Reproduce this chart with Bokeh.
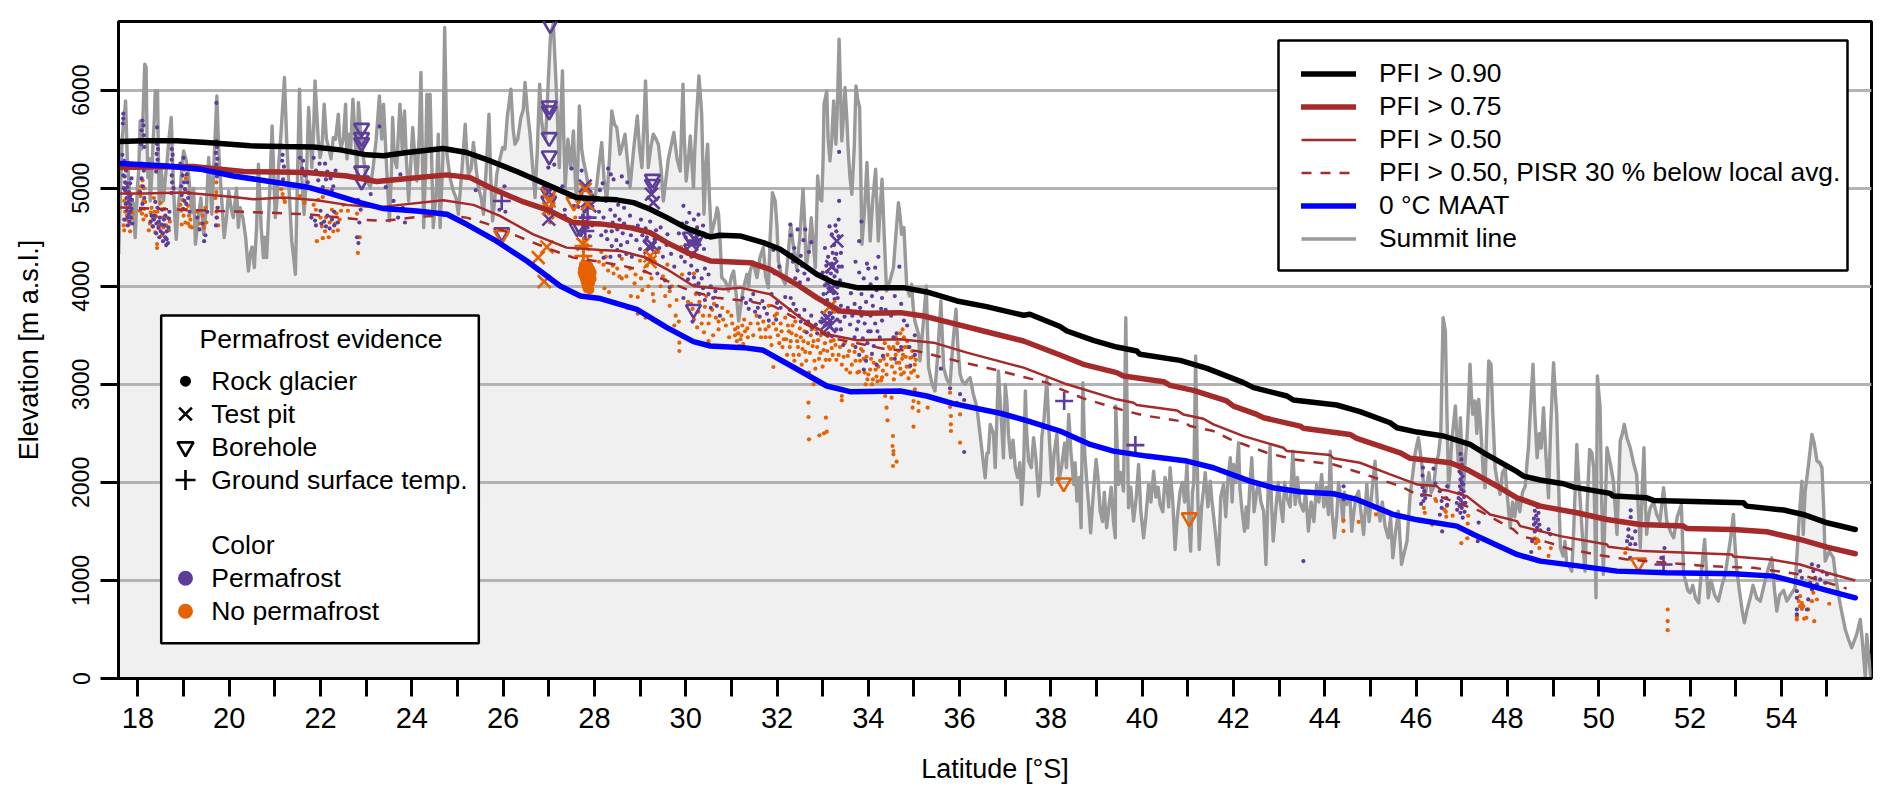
from bokeh.plotting import figure
from bokeh.models import Range1d, FixedTicker, Legend, LegendItem, Label, BoxAnnotation
from bokeh.embed import file_html
from bokeh.resources import INLINE

FONT = "Liberation Sans"
PURPLE = "#5e3c99"
ORANGE = "#e66101"

tick_lat_major = list(range(18, 56, 2))
tick_lat_minor = list(range(19, 56, 2))
tick_elev = [0, 1000, 2000, 3000, 4000, 5000, 6000]

pfi90 = [(17.61,5476),(18.12,5483),(18.85,5483),(19.51,5466),(20.46,5432),(21.19,5425),(21.85,5421),(22.43,5391),(23.01,5340),(23.38,5330),(23.89,5364),(24.69,5404),(25.2,5364),(25.72,5278),(26.3,5170),(27.03,5023),(27.61,4904),(28.13,4890),(28.49,4881),(28.86,4853),(29.22,4785),(29.59,4700),(30.03,4591),(30.54,4503),(30.75,4520),(31.19,4513),(31.7,4445),(32.07,4377),(32.51,4241),(32.87,4122),(33.24,4037),(33.75,3986),(34.33,3986),(34.77,3986),(35.28,3942),(35.94,3850),(36.59,3792),(37.40,3704),(37.54,3714),(38.2,3590),(38.35,3544),(38.93,3449),(39.44,3380),(39.88,3340),(39.95,3306),(40.83,3244),(41.42,3163),(42.22,3017),(42.44,2966),(43.17,2881),(43.31,2840),(44.26,2789),(44.77,2721),(45.43,2608),(45.58,2557),(46.02,2513),(46.6,2473),(47.18,2387),(47.48,2302),(48.21,2109),(48.35,2064),(48.72,2024),(49.23,1986),(49.45,1952),(50.25,1888),(50.32,1860),(51.05,1843),(51.2,1816),(53.17,1792),(53.24,1758),(54.05,1718),(54.48,1673),(55.0,1588),(55.62,1520)]
pfi75 = [(17.61,5210),(18.12,5217),(19.2,5221),(19.8,5194),(20.31,5170),(21.12,5166),(21.7,5160),(22.58,5125),(23.23,5068),(23.74,5091),(24.77,5136),(25.28,5108),(25.79,4989),(26.45,4860),(27.03,4768),(27.54,4649),(28.13,4636),(28.78,4598),(29.22,4547),(29.59,4445),(30.03,4343),(30.54,4258),(31.41,4241),(31.85,4173),(32.43,4020),(32.87,3884),(33.38,3748),(33.97,3724),(34.7,3731),(35.21,3697),(35.79,3629),(36.52,3544),(37.4,3442),(38.2,3299),(38.71,3204),(39.44,3119),(39.59,3085),(40.47,3027),(40.61,2989),(41.12,2938),(41.85,2830),(42.0,2778),(42.51,2693),(42.66,2659),(43.46,2574),(43.53,2551),(44.55,2489),(44.7,2449),(45.65,2302),(45.87,2245),(46.75,2200),(47.11,2132),(47.84,1945),(48.21,1843),(48.72,1758),(49.52,1690),(50.18,1622),(50.91,1571),(51.86,1554),(51.93,1530),(52.95,1520),(53.68,1496),(54.41,1418),(55.0,1340),(55.62,1272)]
pfi50 = [(17.61,4945),(18.12,4945),(19.0,4955),(20.09,4911),(20.53,4887),(21.19,4904),(21.92,4877),(22.58,4830),(23.23,4802),(23.74,4830),(24.69,4877),(25.35,4830),(25.93,4717),(26.66,4530),(27.39,4394),(28.13,4370),(28.57,4360),(29.08,4299),(29.59,4173),(30.17,4003),(30.83,3969),(31.19,3986),(31.85,3918),(32.51,3680),(33.09,3510),(33.75,3449),(34.7,3459),(35.43,3425),(36.16,3323),(37.4,3170),(38.35,3000),(39.44,2847),(39.81,2812),(39.88,2789),(40.76,2734),(40.9,2693),(41.34,2649),(41.56,2591),(42.22,2472),(43.09,2353),(43.17,2319),(44.12,2279),(44.19,2245),(44.77,2200),(45.43,2081),(46.02,1979),(46.45,1962),(46.53,1928),(46.67,1918),(47.11,1860),(47.62,1673),(48.21,1605),(48.28,1554),(49.16,1452),(50.18,1367),(50.21,1343),(50.98,1299),(52.92,1265),(52.95,1245),(53.76,1214),(54.41,1163),(55.0,1078),(55.62,1000)]
pfi50_pisr = [(17.61,4802),(18.12,4796),(19.73,4768),(20.82,4751),(21.7,4734),(22.8,4683),(23.38,4666),(24.11,4707),(24.77,4725),(25.2,4700),(25.64,4639),(26.3,4513),(27.03,4377),(27.54,4292),(28.13,4250),(28.64,4207),(29.08,4156),(29.59,4054),(30.1,3952),(30.68,3884),(31.34,3850),(31.92,3799),(32.51,3646),(33.16,3476),(34.4,3357),(35.06,3340),(35.94,3238),(36.89,3136),(37.4,3074),(37.91,3017),(38.17,2959),(38.71,2857),(39.59,2734),(40.03,2683),(40.61,2642),(40.9,2619),(41.05,2574),(41.56,2523),(41.93,2438),(42.73,2302),(43.31,2234),(44.19,2183),(44.7,2109),(45.65,1962),(45.94,1894),(46.6,1843),(47.4,1707),(48.13,1520),(48.28,1452),(48.79,1401),(49.45,1309),(50.03,1258),(50.62,1214),(51.49,1180),(52.37,1146),(53.39,1129),(54.41,1061),(55.43,918)]
maat0 = [(17.61,5251),(18.64,5227),(19.36,5194),(20.09,5125),(20.82,5074),(21.7,5013),(22.28,4938),(22.87,4853),(23.38,4792),(24.11,4768),(24.77,4734),(25.2,4632),(25.79,4479),(26.52,4258),(27.25,4003),(27.69,3901),(28.13,3875),(28.93,3765),(29.59,3578),(30.17,3435),(30.54,3391),(31.27,3374),(31.7,3347),(32.51,3136),(33.09,2983),(33.6,2925),(34.7,2932),(35.28,2881),(35.86,2803),(36.89,2705),(37.47,2630),(38.2,2523),(38.86,2387),(39.37,2319),(40.1,2268),(40.98,2217),(41.56,2149),(42.36,2013),(42.87,1945),(43.46,1904),(44.19,1884),(44.7,1826),(45.5,1673),(46.02,1618),(46.89,1554),(47.26,1469),(48.21,1265),(48.72,1197),(49.59,1146),(50.4,1095),(51.49,1078),(52.95,1068),(53.83,1044),(54.41,976),(55.0,898),(55.62,823)]

summit_main = [(17.58,4326),(17.65,5483),(17.70,5721),(17.73,5891),(17.77,5278),(17.87,4734),(17.94,4496),(17.99,5006),(18.05,5687),(18.10,5585),(18.15,6265),(18.18,6231),(18.22,5108),(18.27,4870),(18.33,5449),(18.38,5993),(18.43,5993),(18.47,4836),(18.56,4870),(18.64,5278),(18.73,5721),(18.78,5006),(18.84,4479),(18.93,5006),(19.00,5381),(19.11,5142),(19.26,4428),(19.33,4734),(19.44,4530),(19.55,5313),(19.62,4734),(19.73,5942),(19.77,5381),(19.89,4496),(19.99,4972),(20.09,4700),(20.24,4802),(20.42,4156),(20.46,4326),(20.55,4190),(20.64,5244),(20.75,4292),(20.82,4292),(20.94,5636),(21.01,4700),(21.08,5210),(21.21,6129),(21.26,5483),(21.37,4462),(21.45,4122),(21.54,6010),(21.64,4734),(21.74,5823),(21.81,5210),(21.88,6095),(21.99,5313),(22.08,5857),(22.18,5415),(22.28,5517),(22.39,5755),(22.45,5415),(22.55,5857),(22.61,5551),(22.71,5908),(22.80,5142),(22.83,5874),(22.94,5313),(23.09,5006),(23.29,5942),(23.38,5857),(23.51,4666),(23.58,5721),(23.67,5210),(23.74,5857),(23.84,5789),(23.93,4870),(24.02,5619),(24.11,5074),(24.20,6180),(24.26,4598),(24.33,5959),(24.40,5959),(24.47,4598),(24.58,5551),(24.62,4598),(24.72,6639),(24.77,5347),(24.91,4972),(25.02,4734),(25.17,5653),(25.24,5142),(25.35,5466),(25.46,5006),(25.57,4734),(25.69,5755),(25.77,4666),(25.86,5142),(25.99,5415),(26.09,5721),(26.17,6010),(26.26,5449),(26.39,5721),(26.48,6078),(26.59,5551),(26.70,4904),(26.80,6061),(26.88,5551),(26.99,6095),(27.04,6571),(27.10,6673),(27.16,6061),(27.23,5210),(27.30,6197),(27.36,5006),(27.54,5585),(27.61,4870),(27.67,5840),(27.76,5278),(27.87,5006),(28.01,4870),(28.16,5466),(28.27,4870),(28.38,5789),(28.49,5619),(28.56,5347),(28.67,5551),(28.78,5006),(28.94,5738),(29.04,5210),(29.12,6095),(29.18,5210),(29.29,5551),(29.40,5449),(29.51,4870),(29.74,5568),(29.88,5176),(29.94,6061),(30.01,5074),(30.10,5534),(30.17,5006),(30.24,5755),(30.29,6146),(30.35,5755),(30.40,4734),(30.48,5449),(30.56,4530),(30.65,4700),(30.72,4734),(30.79,4088),(30.94,3952),(31.05,4156),(31.16,3646),(31.34,4122),(31.41,4156),(31.56,4088),(31.70,4394),(31.81,3986),(31.90,4955),(31.96,4870),(32.03,4258),(32.18,4020),(32.30,4632),(32.43,4190),(32.57,4989),(32.64,4190),(32.75,4700),(32.84,4190),(32.89,5125),(32.98,4870),(33.03,5857),(33.09,5993),(33.16,5278),(33.24,5891),(33.29,5449),(33.36,6520),(33.42,5483),(33.49,6027),(33.56,5381),(33.64,4938),(33.73,6044),(33.81,5823),(33.86,4428),(33.97,5262),(34.04,4462),(34.16,5193),(34.22,4462),(34.30,5091),(34.40,3952),(34.55,4190),(34.66,4853),(34.73,4530),(34.78,4598),(34.84,4020),(34.95,4020),(35.02,3646),(35.10,3510),(35.13,3238),(35.27,4003),(35.32,3170),(35.46,2932),(35.59,3850),(35.65,3170),(35.79,3000),(35.92,3765),(36.01,3102),(36.12,3000),(36.23,3068),(36.38,2762),(36.56,2047),(36.67,2592),(36.78,2150),(36.85,3136),(36.92,2592),(37.00,2999),(37.07,2489),(37.22,2149),(37.36,1775),(37.44,2932),(37.51,2217),(37.62,2456),(37.73,1860),(37.80,2456),(37.91,3051),(38.02,1979),(38.13,2489),(38.24,2183),(38.39,2693),(38.50,1979),(38.57,1809),(38.66,1537),(38.70,3017),(38.79,1979),(38.87,1486),(38.99,2234),(39.08,1707),(39.22,1537),(39.41,1435),(39.42,2779),(39.48,1979),(39.59,1911),(39.64,3680),(39.70,1741),(39.81,1605),(39.92,2183),(40.03,1435),(40.14,1979),(40.25,2115),(40.39,1775),(40.54,1979),(40.61,2149),(40.72,1316),(40.83,1911),(40.98,2183),(41.06,1299),(41.17,3289),(41.25,1316),(41.34,1911),(41.49,2013),(41.67,1163),(41.78,1979),(41.93,2251),(42.00,2183),(42.11,2404),(42.18,1741),(42.31,1537),(42.40,2251),(42.51,1911),(42.66,1707),(42.71,1163),(42.80,2370),(42.87,1401),(43.02,1809),(43.17,1843),(43.30,2319),(43.35,1775),(43.53,1707),(43.64,1503),(43.82,1979),(43.93,2081),(44.08,1673),(44.12,2319),(44.21,1435),(44.34,1877),(44.48,1775),(44.63,1673),(44.74,1911),(44.85,1469),(44.92,1979),(45.10,2217),(45.21,1605),(45.39,1435),(45.49,1231),(45.61,1707),(45.68,1163),(45.80,1401),(45.87,1877),(46.05,2456),(46.20,1877),(46.38,1945),(46.49,2286),(46.59,3680),(46.64,3544),(46.71,1945),(46.78,2421),(46.86,2779),(46.93,2149),(46.97,2660),(47.04,1945),(47.11,2421),(47.18,3204),(47.24,2694),(47.29,2830),(47.37,2847),(47.44,2353),(47.51,1945),(47.59,3238),(47.64,3204),(47.73,2149),(47.84,1877),(47.95,2149),(48.06,1537),(48.21,1843),(48.39,1962),(48.46,2353),(48.56,3204),(48.65,2251),(48.79,2762),(48.90,1843),(49.01,3221),(49.08,2694),(49.16,1333),(49.30,1163),(49.41,1095),(49.52,2388),(49.59,1843),(49.70,1095),(49.80,2337),(49.89,2149),(49.94,823),(49.97,3085),(50.03,2762),(50.10,1061),(50.18,2353),(50.32,2013),(50.40,1469),(50.47,2421),(50.56,2592),(50.69,2353),(50.83,2081),(50.91,1333),(50.99,2353),(51.05,1469),(51.13,1741),(51.27,1673),(51.42,1945),(51.49,1605),(51.64,1435),(51.81,1775),(51.86,1061),(52.00,874),(52.19,772),(52.32,1418),(52.40,823),(52.62,789),(52.77,1061),(52.88,1401),(52.95,1673),(53.02,1129),(53.19,568),(53.32,823),(53.54,789),(53.79,1231),(53.90,687),(54.12,789),(54.30,925),(54.45,2013),(54.48,1469),(54.67,2490),(54.78,2218),(54.89,2149),(54.96,1197),(55.14,1231),(55.29,755),(55.54,313),(55.73,602),(55.84,7),(55.87,449),(55.96,7)]
summit_extra = [(17.82,4950),(17.90,4850),(18.02,5200),(18.08,5400),(18.20,5500),(18.25,5300),(18.30,5100),(18.36,5700),(18.45,5300),(18.51,5200),(18.60,5100),(18.68,5500),(18.81,4700),(18.88,4800),(18.96,5200),(19.05,5300),(19.18,4750),(19.22,5000),(19.30,4600),(19.38,4900),(19.50,4800),(19.59,5000),(19.67,5300),(19.82,5000),(19.94,4700),(20.04,4800),(20.16,5000),(20.20,4600),(20.30,4700),(20.36,4500),(20.50,4400),(20.60,4600),(20.70,4600),(20.78,4500),(20.88,4900),(21.05,4900),(21.14,5600),(21.31,5000),(21.41,4300),(21.49,5000),(21.59,5100),(21.69,5100),(21.78,5500),(21.85,5600),(21.95,5500),(22.03,5400),(22.13,5500),(22.23,5300),(22.33,5500),(22.42,5500),(22.50,5500),(22.58,5300),(22.66,5400),(22.76,5500),(22.89,5500),(23.00,5100),(23.15,5200),(23.22,5500),(23.34,5500),(23.45,5200),(23.55,5100),(23.62,5300),(23.70,5500),(23.79,5400),(23.88,5300),(23.97,5200),(24.07,5300),(24.16,5500),(24.30,5200),(24.37,5400),(24.44,5200),(24.54,5000),(24.60,5000),(24.68,5300),(24.84,5100),(24.97,4900),(25.10,5200),(25.21,5300),(25.30,5200),(25.41,5200),(25.52,4900),(25.63,5200),(25.73,5100),(25.82,4900),(25.93,5300),(26.04,5400),(26.22,5600),(26.32,5500),(26.44,5800),(26.53,5800),(26.65,5200),(26.75,5400),(26.84,5700),(26.93,5500),(27.20,5600),(27.26,5700),(27.33,5500),(27.42,5500),(27.48,5200),(27.58,5100),(27.64,5300),(27.72,5400),(27.82,5150),(27.94,4950),(28.09,5200),(28.21,5100),(28.33,5300),(28.44,5650),(28.52,5500),(28.62,5450),(28.72,5300),(28.86,5400),(28.99,5400),(29.08,5600),(29.23,5400),(29.35,5500),(29.46,5200),(29.62,5300),(29.81,5300),(29.97,5500),(30.06,5300),(30.13,5300),(30.20,5400),(30.44,5200),(30.52,4900),(30.69,4800),(30.76,4400),(30.87,4050),(31.00,4100),(31.11,3900),(31.25,3950),(31.38,4000),(31.48,4250),(31.63,4300),(31.75,4100),(31.85,4500),(32.00,4600),(32.10,4100),(32.24,4300),(32.36,4400),(32.50,4500),(32.61,4600),(32.70,4400),(32.80,4400),(32.93,4900),(33.01,5300),(33.12,5500),(33.20,5500),(33.32,5800),(33.39,6000),(33.45,5700),(33.53,5700),(33.60,5100),(33.69,5400),(33.77,5900),(33.84,5000),(33.92,4800),(34.01,4800),(34.10,4900),(34.19,4800),(34.26,4800),(34.35,4500),(34.47,4050),(34.60,4500),(34.70,4700),(34.81,4300),(34.90,3900),(34.98,3800),(35.06,3580),(35.20,3600),(35.30,3500),(35.40,3000),(35.52,3300),(35.62,3500),(35.72,3050),(35.85,3400),(35.96,3400),(36.06,3030),(36.17,3040),(36.30,2900),(36.47,2400),(36.60,2300),
(36.63,2300),(36.74,2500),(36.96,2250),(37.04,2800),(37.12,2250),(37.17,2430),(37.27,2050),(37.32,2200),(37.40,2100),(37.47,2500),(37.57,2150),(37.67,2250),(37.77,2050),(37.85,2650),(37.96,2500),(38.07,2300),(38.18,2020),(38.30,2400),(38.34,2150),(38.44,2300),(38.53,2200),(38.62,2050),(38.74,2300),(38.83,1750),(38.93,1900),(39.03,2050),(39.13,1600),(39.17,1900),(39.27,1750),(39.32,1950),(39.37,1600),(39.53,2100),(39.75,1950),(39.87,1850),(39.97,1700),(40.08,1650),(40.19,1800),(40.30,1850),(40.35,1950),(40.45,1700),(40.50,2050),(40.58,1750),(40.67,1800),(40.77,1650),(40.88,2000),(40.93,1800),(41.02,1650),(41.10,1900),(41.13,2000),(41.22,1800),(41.30,1750),(41.38,2100),(41.44,1750),(41.53,1800),(41.60,1500),(41.72,1850),(41.83,1650),(41.88,2050),(41.97,1800),(42.05,2000),(42.14,1950),(42.24,1500),(42.28,1750),(42.35,1900),(42.45,1700),(42.55,2000),(42.60,1800),(42.76,1950),(42.83,1800),(42.93,1750),(42.98,2000),(43.08,1600),(43.12,2000),(43.24,1750),(43.40,2050),(43.45,1800),(43.58,1900),(43.70,1800),(43.76,1600),(43.87,1800),(43.98,1750),(44.03,1950),(44.16,1700),(44.26,1650),(44.30,2000),(44.40,1600),(44.43,1900),(44.55,1850),(44.59,1500),(44.68,1850),(44.79,1700),(44.89,1750),(44.97,1600),(45.04,1950),(45.15,1800),(45.26,1800),(45.32,1550),(45.44,1650),(45.55,1500),
(45.93,2100),(45.98,2300),(46.12,2200),(46.16,2000),(46.28,2100),(46.33,1900),(46.44,2200),(46.54,2500),(46.68,2600),(46.74,2100),(46.82,2600),(46.90,2400),(47.00,2300),(47.07,2200),(47.14,2700),(47.21,2900),(47.33,2500),(47.41,2600),(47.47,2100),(47.55,2600),(47.68,2700),(47.78,2000),(47.89,2100),(48.00,1850),(48.11,1800),(48.16,1650),(48.27,1700),(48.33,1900),(48.43,2200),(48.51,2800),(48.60,2700),(48.70,2500),(48.74,2350),(48.84,2300),(48.95,2600),(49.05,2900),(49.12,2000),(49.22,1250),(49.26,1400),(49.35,1150),(49.45,1500),(49.49,2000),(49.55,2100),(49.65,1400),(49.75,1800),(49.85,2300),(49.92,1500),(50.06,1900),(50.14,1700),(50.25,2200),(50.36,1750),(50.44,2000),(50.52,2500),(50.62,2450),(50.76,2200),(50.87,1700),(50.95,1900),(51.02,1800),(51.09,1650),(51.20,1800),(51.34,1600),(51.46,1750),(51.57,1500),(51.72,1650),(51.90,1000),(51.95,900),(52.06,950),(52.12,820),(52.25,1100),(52.36,1100),(52.46,1000),(52.54,850),(52.70,950),(52.83,1250),(52.98,1400),(53.08,900),(53.14,700),(53.25,700),(53.38,950),(53.46,820),(53.62,950),(53.70,1100),(53.85,900),(53.96,850),(54.05,900),(54.20,850),(54.36,1400),(54.40,1700),(54.52,1900),(54.60,2200),(54.72,2400),(54.84,2200),(54.93,1700),(55.05,1300),(55.20,1000),(55.40,500),(55.47,400),(55.65,450),(55.78,350)]
summit = sorted(summit_main + summit_extra)

rock_permafrost = [(17.68,5760),(17.68,5710),(17.67,5660),(17.66,5340),(17.70,5280),(17.74,5180),(17.68,5130),(17.72,5060),(17.77,5010),(17.80,4960),(17.84,4930),(17.75,4900),(17.79,4860),(17.83,4830),(17.86,4790),(17.76,4770),(17.80,4730),(17.85,4700),(17.81,4660),(17.78,4620),(17.86,5100),(17.83,5050),(17.72,4980),(17.87,4880),
(18.10,5690),(18.12,5640),(18.08,5590),(18.13,5540),(18.10,5490),(18.07,5450),(18.14,5420),(18.11,5020),(18.05,4960),(18.08,5100),(18.14,4900),(18.10,4840),(18.07,4790),(18.13,5180),(18.09,5250),
(18.42,5620),(18.42,5450),(18.44,5400),(18.41,5350),(18.43,5290),(18.45,5230),(18.40,5170),(18.30,4720),(18.35,4680),(18.41,4640),(18.45,4600),(18.50,4560),(18.55,4540),(18.60,4500),(18.63,4480),(18.66,4440),(18.58,4620),(18.48,4700),(18.60,4720),(18.68,4690),(18.53,4780),(18.43,4800),(18.69,4760),(18.38,4860),(18.74,5400),(18.76,5340),(18.74,5290),(18.77,5230),(18.74,5130),(18.75,5060),(18.78,5000),(18.73,4950),
(18.93,5250),(19.00,5310),(19.05,5210),(18.98,5130),(19.08,5060),(19.03,4990),(18.96,4930),(19.10,4900),(19.06,4840),(18.99,4790),(19.13,4760),(19.30,4700),(19.35,4580),(19.42,4640),(19.48,4520),(19.52,4760),(19.45,4460),(19.72,5870),(19.72,5480),(19.73,5420),(19.71,5360),(19.74,5300),(19.72,5240),(19.70,5180),(19.73,5120),(19.75,4800),(19.73,4700),(19.71,4620),
(21.17,5340),(21.16,5280),(21.20,5220),(21.18,5160),(21.18,5090),(21.55,5310),(21.60,5200),(21.66,5130),(21.62,5280),(21.72,5060),(21.85,5310),(21.90,5180),(21.95,5080),(22.00,5140),(22.05,5010),(22.10,5250),(22.15,5170),(22.22,5100),(22.28,5020),(22.33,5180),(21.80,4700),(21.90,4620),(22.00,4770),(22.08,4660),(22.15,4720),(22.20,4590),(22.30,4760),(22.38,4650),(22.78,5120),(22.82,4880),(22.85,4650),(22.80,4500),(22.88,4780),(22.83,4440),(23.29,5630),(23.43,5010),(23.10,4940),(23.60,4870),(23.75,5140),(23.80,4800),(23.85,4650),(23.70,4700),
(25.40,4980),(26.03,5020),(25.92,4780),(26.05,4760),(26.99,5210),(27.12,5240),(27.05,4800),(27.30,5020),(27.35,4780),(27.35,4720),(27.40,4680),(27.50,5200),(27.55,4820),(27.72,5180),(27.78,4980),(27.65,4810),(27.78,4760),(27.85,4820),(27.92,4800),(27.75,4720),(27.82,4660),(27.90,4700),(27.85,4600),(27.78,4490),(27.90,4510),(27.70,4530),(27.95,4620),(27.80,4400),(27.88,4860),
(28.18,5050),(28.30,5200),(28.36,5140),(28.42,5090),(28.10,4760),(28.20,4700),(28.30,4620),(28.40,4650),(28.50,4580),(28.15,4520),(28.28,4480),(28.38,4410),(28.50,4370),(28.62,4540),(28.72,4450),(28.20,4290),(28.35,4300),(28.55,4310),(28.70,4330),(28.60,5120),(28.72,5060),(28.52,4830),(28.65,4800),(28.78,4720),(28.85,4600),(28.92,4470),(29.00,4380),(28.82,4300),(29.02,4680),(29.12,4590),(29.22,4660),(29.35,4570),(29.10,4460),(29.20,4280),(29.32,4480),(29.42,4390),(29.50,4300),(29.60,4530),(29.70,4420),(29.75,4200),(29.38,4130),(29.55,4060),(29.65,3990),
(29.95,4820),(30.08,4750),(30.18,4680),(30.28,4730),(30.38,4620),(30.45,4500),(30.00,4500),(30.10,4460),(30.22,4430),(30.30,4470),(30.40,4380),(29.98,4250),(30.12,4210),(30.25,4160),(30.35,4080),(30.45,4280),(30.55,4000),(30.05,4070),(30.20,4010),(30.30,3920),(30.42,3860),(30.55,3780),(30.68,3800),(30.65,3950),(30.75,3700),(30.15,3640),(29.95,3880),
(31.25,3880),(31.38,3770),(31.48,3920),(31.58,3780),(31.68,3850),(31.78,3720),(31.88,3920),(32.00,3830),(31.95,4130),(31.92,4370),(32.05,4200),(32.29,4630),(32.30,4520),(32.38,4390),(32.45,4580),(32.52,4310),(32.58,4470),(32.62,4580),(32.70,4350),(32.75,4450),(32.35,4250),(32.45,4160),(32.55,4210),(32.30,3880),(32.42,3760),(32.52,3640),(32.65,3530),(32.75,3700),(32.85,3610),
(33.36,5370),(33.36,4870),(33.35,4680),(33.28,4620),(33.20,4530),(33.25,4420),(33.35,4510),(33.40,4340),(33.05,4390),(33.12,4300),(33.20,4230),(33.27,4280),(33.35,4200),(33.00,4140),(33.08,4090),(33.16,4040),(33.26,4100),(33.32,3990),(33.02,3920),(33.10,3860),(33.18,3790),(33.26,3870),(33.34,3740),(33.06,3700),(33.14,3620),(33.22,3680),(33.30,3560),(33.12,3520),(33.20,3490),(33.38,3640),(33.45,3400),(33.05,3600),(33.18,3950),(33.10,4150),(33.23,4190),
(33.85,4660),(33.97,4230),(34.00,4180),(33.72,4250),(33.80,4140),(33.90,4080),(34.05,4020),(34.15,4190),(34.22,4300),(34.18,4080),(33.70,3820),(33.82,3780),(33.95,3840),(34.05,3700),(34.15,3620),(34.28,3770),(33.75,3560),(33.88,3470),(34.00,3540),(34.12,3390),(34.25,3480),(33.80,3300),(33.95,3240),(34.08,3310),(34.32,3290),(34.68,4200),(34.58,3900),(34.72,3820),(34.78,3650),(34.62,3520),(34.72,3380),(34.92,3190),(35.02,3300),(34.58,3260),
(35.59,3160),(35.79,2960),(35.94,2810),(36.10,2840),(36.10,2310),(36.01,2900),
(43.53,1197),(44.41,1960),(44.41,1826),(46.15,2150),(46.14,2070),(46.14,1950),(46.18,1910),(46.13,1870),(46.20,1840),(46.16,1810),(46.11,1780),(46.38,2140),(46.42,1990),(46.52,1910),(46.56,1810),(46.56,1740),(46.52,1670),(46.68,1960),(46.66,1840),(46.68,1770),(46.57,1500),
(46.97,2290),(46.99,2234),(47.00,2180),(46.95,2110),(46.98,2090),(47.02,2060),(46.97,2030),(47.00,2000),(47.03,1980),(46.96,1960),(46.99,1930),(47.04,1910),(46.94,1890),(47.00,1880),(47.05,1850),(46.93,1840),(46.98,1820),(47.02,1790),(46.89,1790),(46.95,1760),(47.00,1740),(47.08,1790),(46.90,1720),(46.97,1690),(47.06,1700),(47.02,1640),(47.37,1590),(47.35,1400),
(48.62,1780),(48.66,1750),(48.60,1710),(48.68,1690),(48.63,1660),(48.58,1630),(48.67,1620),(48.62,1590),(48.70,1570),(48.58,1570),(48.65,1540),(48.72,1510),(48.60,1500),(48.54,1400),(48.52,1290),(48.90,1520),(48.94,1470),
(50.70,1715),(50.70,1645),(50.65,1520),(50.80,1500),(50.65,1450),(50.62,1400),(50.73,1430),(50.69,1370),(50.80,1370),(50.69,1230),(51.44,1330),(51.37,1230),
(54.34,891),(54.34,823),(54.41,1095),(54.45,1027),(54.67,1163),(54.70,1095),(54.81,1146),(54.74,1027),(54.63,976),(54.85,1010),(54.96,976),(54.34,704),(54.34,653),(54.56,704),(54.59,806),(54.67,908),(55.0,1061),(54.78,960),(54.90,1090),
(17.71,5120),(17.75,5050),(17.79,4940),(17.82,4900),(17.74,4840),(17.78,4700),(17.70,4680),(17.83,4760),(17.88,4640),(17.69,5000),(18.28,4660),(18.33,4610),(18.37,4720),(18.46,4660),(18.52,4630),(18.57,4680),(18.63,4560),(18.67,4600),(18.40,4540),(18.47,4500),(18.55,4460),(18.62,4420),(18.95,5020),(19.01,5060),(19.07,5140),(19.02,4870),(19.11,4950),(21.98,5250),(22.12,5090),(22.25,4980),(22.02,4640),(22.12,4610),(22.25,4680),(22.30,4620),(21.88,4670),
(28.12,4980),(28.25,4870),(28.35,4780),(28.45,4720),(28.55,4680),(28.25,4560),(28.38,4560),(28.48,4470),(28.58,4420),(28.65,4640),(28.80,4520),(28.95,4620),(29.05,4520),(29.15,4500),(29.28,4400),(29.45,4600),(29.58,4420),(29.68,4330),(29.85,4540),(29.90,4300),(29.92,4640),(30.02,4650),(30.15,4550),(30.25,4600),(30.35,4540),(30.02,4370),(30.18,4340),(30.30,4290),(30.42,4180),(30.50,4120),(30.08,4130),(30.18,4090),(30.28,4030),(30.38,3980),(30.50,3920),(30.60,3880),
(31.32,3830),(31.42,3860),(31.52,3740),(31.62,3690),(31.72,3780),(31.82,3650),(31.98,3660),(32.08,3780),(32.18,3890),(32.28,3760),(32.36,3820),(32.48,3700),(32.60,3760),(32.68,3640),(32.78,3580),(32.88,3520),(32.95,3640),(32.32,4320),(32.40,4080),(32.50,4040),(32.60,4130),(32.68,4070),
(33.15,4610),(33.30,4560),(33.22,4340),(33.30,4330),(33.08,4210),(33.18,4130),(33.30,4160),(33.38,4060),(33.42,4200),(33.05,4010),(33.13,3980),(33.24,3930),(33.33,3880),(33.40,3800),(33.06,3820),(33.15,3730),(33.24,3760),(33.32,3660),(33.40,3560),(33.48,3690),(33.55,3780),(33.60,3610),(33.65,3700),(33.70,3480),(33.78,3640),(33.85,3700),(33.92,3620),(33.98,3420),(34.05,3540),(34.10,3800),(34.20,3540),(34.30,3650),(34.38,3760),(33.62,3930),(33.72,3980),(33.85,3920),(33.95,3990),(34.08,3900),(34.18,3960),(34.30,3880),(33.80,4460),(33.72,3380),(33.90,3150),(34.18,3200),(34.50,3700),(34.55,3480),(34.85,3600),(34.90,3380),(35.02,3500)]

rock_no_permafrost = [(17.75,4950),(17.70,4870),(17.78,4800),(17.72,4760),(17.74,4680),(17.84,4640),(17.70,4570),(17.83,4560),(17.76,4720),(17.88,4750),(18.02,4970),(18.10,5080),(18.13,5000),(18.06,4920),(18.12,4870),(18.04,4770),(18.14,4790),(18.18,4720),
(18.26,4640),(18.24,4570),(18.30,4800),(18.36,4760),(18.32,4610),(18.40,4710),(18.44,4650),(18.38,4550),(18.46,4590),(18.50,4850),(18.54,4700),(18.58,4790),(18.62,4620),(18.70,4660),(18.35,4900),(18.42,4430),(18.42,4390),
(18.93,4830),(18.98,4880),(19.02,5190),(19.05,5100),(19.08,4960),(19.10,4820),(19.12,4720),(19.00,4720),(19.04,4650),(18.96,4630),(19.15,4680),(19.18,4600),(19.30,4760),(19.36,4640),(19.42,4720),(19.50,4650),(19.72,5060),(19.70,4900),(19.74,4800),(19.72,4700),(19.76,4620),
(21.14,4990),(21.17,4940),(21.20,4890),(21.22,4860),(21.55,4920),(21.65,4850),(21.85,4830),(21.95,4880),(22.05,4910),(22.15,4970),(22.25,4950),(22.00,4700),(22.10,4560),(22.20,4650),(22.28,4560),(22.35,4740),(22.42,4680),(22.50,4830),(22.60,4770),(21.92,4460),(22.05,4490),(22.18,4500),(22.32,4640),(22.80,4740),(22.85,4500),(22.82,4340),(22.86,4500),
(26.98,4960),(27.05,4870),(27.02,4780),(27.08,4700),(27.03,4650),(26.95,4820),(27.00,4740),(27.58,4700),(27.65,4860),(27.72,4950),(27.78,4880),(27.84,4420),(27.75,4260),(27.85,4300),(28.22,3980),(28.32,3940),(28.55,4100),(28.15,4350),(28.25,4300),(28.40,4210),(28.50,4180),(28.60,4280),(28.70,4100),(28.88,4030),(28.95,3890),(29.00,4260),(29.10,4150),(29.18,4000),(29.28,3920),(29.05,3960),(28.72,3780),(28.80,3900),(28.45,3840),(28.95,3720),(29.12,3680),(29.40,4350),(29.50,4100),(29.55,3900),(29.60,4220),(29.65,3800),(29.70,4000),(29.78,3700),(29.85,3640),(29.86,3425),(29.86,3340),(29.75,3600),
(29.90,4400),(30.00,4380),(30.05,4330),(30.12,4300),(30.18,4130),(30.22,3920),(30.12,3820),(30.18,3660),(30.30,3840),(30.38,3700),(30.45,3900),(30.50,3620),(30.58,3760),(30.66,3680),(30.72,3560),(30.80,3780),(30.25,3580),(30.40,3530),(30.50,3440),(30.60,3500),(30.88,3600),(30.95,3480),(31.00,3700),(31.08,3560),(31.12,3440),(31.15,3520),(31.18,3390),(31.20,3460),(31.24,3600),(31.26,3410),(31.30,3540),(31.36,3480),(31.92,3177),
(31.55,3700),(31.62,3560),(31.70,3640),(31.75,3480),(31.82,3590),(31.88,3400),(31.95,3700),(32.02,3500),(32.08,3620),(32.12,3380),(32.18,3680),(32.22,3300),(32.26,3540),(32.30,3440),(32.34,3600),(32.38,3240),(32.42,3500),(32.46,3380),(32.50,3570),(32.54,3200),(32.58,3440),(32.62,3330),(32.66,3620),(32.70,3120),(32.74,3500),(32.78,3390),(32.80,3000),(32.82,3240),(32.86,3560),(32.90,3450),(32.95,3320),(33.00,3180),(33.05,3420),(33.10,3340),(33.15,3250),(33.20,3370),(33.24,3450),(32.40,3640),(32.20,3460),(32.00,3720),(31.82,3800),
(33.42,2837),(33.42,2881),(33.28,3400),(33.35,3300),(33.42,3200),(33.48,3420),(33.55,3290),(33.60,3120),(33.66,3400),(33.72,3240),(33.80,3130),(33.84,3360),(33.90,3260),(33.94,3000),(33.98,3050),(34.04,3150),(34.08,3000),(34.12,3220),(34.18,3080),(34.22,3180),(34.28,3040),(34.32,3140),(34.36,3420),(34.42,3300),(34.48,3360),(34.52,3180),(34.56,3050),(34.60,3300),(34.64,3420),(34.68,3220),(34.72,3100),(34.76,3300),(34.80,3380),(34.84,3180),(34.88,3060),(34.92,3270),(34.96,3340),(35.00,3140),(35.04,3250),(34.70,3520),(34.75,3560),(34.78,3480),
(32.69,2813),(32.69,2667),(32.70,2439),(32.93,2480),(33.03,2500),(33.09,2517),(33.07,2660),(34.40,2762),(34.42,2633),(34.54,2473),(34.53,2371),(34.55,2320),(34.55,2286),(34.62,2211),(34.54,2167),(34.37,2881),(34.51,2864),(34.99,2830),(35.10,2813),(35.30,2762),(34.97,2762),(35.10,2728),(34.99,2568),(35.79,2915),(35.79,2769),(35.81,2677),(35.81,2592),(35.81,2524),(36.01,2405),(36.01,2694),(35.02,2950),
(44.41,1612),(44.41,1503),(44.74,1598),(45.12,1673),(46.17,1740),(46.19,1690),(46.35,1570),(46.42,1830),(46.44,1810),(46.67,1760),(46.65,1700),(46.66,1650),(46.62,1720),(46.80,1660),(47.14,1660),(47.13,1580),(47.18,1480),(47.12,1430),(46.99,1380),
(48.60,1430),(48.65,1420),(48.68,1400),(48.70,1330),(48.62,1380),(48.95,1330),(48.90,1250),(50.62,1330),(50.58,1280),(50.68,1220),(51.51,704),(51.51,585),(51.51,493),
(54.34,602),(54.34,636),(54.41,840),(54.41,738),(54.48,738),(54.45,770),(54.55,619),(54.72,585),(54.67,789),(54.78,806),(54.70,874),(55.05,762),(54.59,704),(54.50,610),(54.38,790),(54.45,710),
(17.73,4840),(17.81,4900),(17.86,4690),(17.69,4620),(18.07,5020),(18.16,4860),(18.09,4740),(18.12,4680),(18.28,4750),(18.33,4690),(18.43,4760),(18.48,4620),(18.52,4520),(18.56,4600),(18.64,4700),(18.68,4570),(18.95,4770),(19.06,4780),(19.10,4640),(19.14,4610),(19.45,4600),(19.72,4760),(19.72,4960),(19.48,4800),(21.90,4780),(22.03,4610),(22.12,4700),(22.25,4780),(22.38,4570),(22.45,4770),
(28.10,4250),(28.20,4220),(28.30,4160),(28.42,4130),(28.60,4080),(28.78,4180),(28.90,4120),(29.02,4080),(29.15,4210),(29.25,4080),(29.30,3850),(29.45,4000),(29.65,3950),(29.80,3860),(29.92,4120),
(30.05,3840),(30.15,3770),(30.28,3740),(30.35,3620),(30.42,3790),(30.52,3700),(30.62,3820),(30.72,3640),(30.82,3660),(30.92,3740),(31.02,3620),(31.08,3500),(31.14,3580),(31.22,3500),(31.28,3660),(31.35,3570),(31.42,3620),(31.48,3500),(31.58,3620),(31.65,3480),(31.75,3560),(31.85,3480),(31.92,3620),(31.98,3560),(32.05,3420),(32.10,3540),(32.15,3460),(32.24,3600),(32.28,3380),(32.32,3520),(32.36,3300),(32.44,3440),(32.48,3300),(32.52,3480),(32.56,3360),(32.60,3540),(32.64,3240),(32.68,3420),(32.72,3320),(32.76,3560),(32.80,3440),(32.84,3160),(32.88,3380),(32.92,3260),(32.96,3500),(33.02,3350),(33.07,3250),(33.12,3500),(33.18,3440),(33.22,3300),
(33.30,3250),(33.38,3380),(33.46,3280),(33.52,3150),(33.58,3340),(33.64,3200),(33.70,3330),(33.76,3120),(33.82,3240),(33.88,3340),(33.92,3120),(33.96,3280),(34.00,3100),(34.06,3260),(34.10,3050),(34.16,3150),(34.20,3030),(34.26,3240),(34.30,3070),(34.34,3260),(34.40,3200),(34.45,3380),(34.50,3260),(34.55,3380),(34.58,3120),(34.62,3220),(34.66,3340),(34.70,3160),(34.74,3260),(34.78,3120),(34.82,3280),(34.86,3380),(34.90,3180),(34.94,3120),(34.98,3280),(35.02,3200),(35.08,3080),(34.40,3100),(34.85,3440),(34.60,3480)]

rock_no_permafrost_dense = [(27.76,4220),(27.82,4225),(27.88,4210),(27.74,4180),(27.80,4190),(27.86,4185),(27.92,4175),(27.73,4140),(27.78,4150),(27.84,4145),(27.90,4150),(27.95,4140),(27.75,4110),(27.81,4115),(27.87,4110),(27.93,4105),(27.78,4075),(27.84,4080),(27.90,4070),(27.95,4075),(27.80,4040),(27.86,4045),(27.92,4035),(27.82,4005),(27.88,4000),(27.84,3975),(27.90,3965)]

borehole_permafrost = [(22.9,5612),(22.9,5517),(22.9,5465),(22.9,5176),(22.9,5075),(25.97,4547),(27.01,5840),(27.01,5789),(27.01,5517),(27.01,5330),(27.03,6670),(27.62,4598),(27.70,4598),(27.00,4950),(27.00,4870),(29.27,5092),(29.27,5040),(30.17,3765),(30.10,4500),(30.25,4500),(30.13,4380)]
borehole_no_permafrost = [(38.28,1996),(41.03,1640),(50.87,1180),(27.55,4860),(27.02,4960),(25.97,4520)]
pit_permafrost = [(27.00,4683),(27.00,4960),(27.80,5023),(27.85,4870),(27.90,4820),(29.25,4938),(29.29,4853),(29.25,4428),(29.22,4394),(30.13,4428),(30.20,4480),(33.31,4462),(33.20,4200),(33.20,3980),(33.10,3680),(33.10,3620),(33.15,3590)]
pit_no_permafrost = [(26.77,4292),(26.96,4401),(26.90,4047),(27.01,4870),(27.00,4790),(27.80,4989),(27.85,4840),(27.75,4430),(29.22,4309),(29.22,4250),(33.15,3790)]
gst_permafrost = [(25.97,4870),(27.80,4564),(27.85,4700),(27.75,4650),(38.29,2830),(39.85,2380),(51.42,1163)]
gst_no_permafrost = [(27.76,4309),(27.76,4411)]

XMIN, XMAX, YMIN, YMAX = 17.575, 55.975, 0, 6700
L, T, R, B = 118.0, 21.0, 1871.0, 678.0   # frame edges on the page


def xs(pts):
    return [a for a, _ in pts]


def ys(pts):
    return [b for _, b in pts]


p = figure(width=1883, height=798, output_backend="svg", toolbar_location=None,
           x_range=Range1d(XMIN, XMAX), y_range=Range1d(YMIN, YMAX),
           min_border_left=118, min_border_right=12, min_border_top=21, min_border_bottom=120,
           background_fill_color="white", border_fill_color="white",
           outline_line_color="black", outline_line_width=3)

p.varea(x=xs(summit), y1=[0] * len(summit), y2=ys(summit), fill_color="#f0f0f0", level="image")
p.xgrid.visible = False
p.ygrid.ticker = FixedTicker(ticks=tick_elev[1:])
p.ygrid.grid_line_color = "#b3b3b3"
p.ygrid.grid_line_width = 3

r_summit = p.line(xs(summit), ys(summit), line_color="#999999", line_width=3.4, line_join="round")

p.scatter(xs(rock_no_permafrost), ys(rock_no_permafrost), marker="circle", size=4.2, fill_color=ORANGE, line_color=None)
p.scatter(xs(rock_permafrost), ys(rock_permafrost), marker="circle", size=4.2, fill_color=PURPLE, line_color=None)
p.scatter(xs(rock_no_permafrost_dense), ys(rock_no_permafrost_dense), marker="circle", size=9, fill_color=ORANGE, line_color=None)

for pts, mk, col, sz in [
    (borehole_permafrost, "inverted_triangle", PURPLE, 15),
    (borehole_no_permafrost, "inverted_triangle", ORANGE, 15),
    (pit_permafrost, "x", PURPLE, 18),
    (pit_no_permafrost, "x", ORANGE, 18),
    (gst_permafrost, "cross", PURPLE, 18),
    (gst_no_permafrost, "cross", ORANGE, 18),
]:
    p.scatter(xs(pts), ys(pts), marker=mk, size=sz, fill_color=None, line_color=col, line_width=2.6)

r_dash = p.line(xs(pfi50_pisr), ys(pfi50_pisr), line_color="#a52a2a", line_width=2.5, line_dash="10 9")
r_50 = p.line(xs(pfi50), ys(pfi50), line_color="#a52a2a", line_width=2.5)
r_75 = p.line(xs(pfi75), ys(pfi75), line_color="#a52a2a", line_width=5.5, line_cap="round")
r_90 = p.line(xs(pfi90), ys(pfi90), line_color="black", line_width=5.5, line_cap="round")
r_maat = p.line(xs(maat0), ys(maat0), line_color="#0000ff", line_width=5.5, line_cap="round")

# axes
for ax in (p.xaxis[0], p.yaxis[0]):
    ax.axis_line_color = "black"
    ax.axis_line_width = 3
    ax.major_tick_line_color = "black"
    ax.major_tick_line_width = 3
    ax.major_tick_in = 0
    ax.major_tick_out = 18
    ax.major_label_text_font = FONT
    ax.major_label_text_color = "black"
    ax.axis_label_text_font = FONT
    ax.axis_label_text_font_style = "normal"
    ax.axis_label_text_color = "black"

p.xaxis.ticker = FixedTicker(ticks=tick_lat_major, minor_ticks=tick_lat_minor)
p.xaxis.minor_tick_in = 0
p.xaxis.minor_tick_out = 18
p.xaxis.minor_tick_line_color = "black"
p.xaxis.minor_tick_line_width = 3
p.xaxis.major_label_text_font_size = "29px"
p.xaxis.major_label_standoff = 11
p.xaxis.axis_label = "Latitude [°S]"
p.xaxis.axis_label_text_font_size = "27px"
p.xaxis.axis_label_standoff = 23

p.yaxis.ticker = FixedTicker(ticks=tick_elev)
p.yaxis.minor_tick_line_color = None
p.yaxis.major_label_text_font_size = "23px"
p.yaxis.major_label_orientation = "vertical"
p.yaxis.major_label_standoff = 11
p.yaxis.axis_label = "Elevation [m a.s.l.]"
p.yaxis.axis_label_text_font_size = "27px"
p.yaxis.axis_label_standoff = 26


def sx(px):
    return px - L


def sy(py):
    return B - py


def box(x0, x1, y0, y1):
    return BoxAnnotation(left=sx(x0), right=sx(x1), top=sy(y0), bottom=sy(y1),
                         left_units="screen", right_units="screen", top_units="screen", bottom_units="screen",
                         fill_color="white", fill_alpha=1, line_color="black", line_alpha=1, line_width=2.5,
                         level="annotation")


# upper-right legend
p.add_layout(box(1278, 1847, 40, 270))
legend = Legend(items=[
    LegendItem(label="PFI > 0.90", renderers=[r_90]),
    LegendItem(label="PFI > 0.75", renderers=[r_75]),
    LegendItem(label="PFI > 0.50", renderers=[r_50]),
    LegendItem(label="PFI > 0.50, PISR 30 % below local avg.", renderers=[r_dash]),
    LegendItem(label="0 °C MAAT", renderers=[r_maat]),
    LegendItem(label="Summit line", renderers=[r_summit]),
], location=(round(sx(1301)), round(sy(254.8))), orientation="vertical",
    glyph_width=55, glyph_height=33, label_height=33, spacing=0, label_standoff=23,
    padding=0, margin=0, background_fill_alpha=0, border_line_alpha=0,
    label_text_font=FONT, label_text_font_size="26.4px", label_text_color="black")
p.add_layout(legend, "center")

# lower-left legend
p.add_layout(box(160.7, 478.3, 315, 642.7))


def to_lat(px):
    return XMIN + (px - L) / (R - L) * (XMAX - XMIN)


def to_elev(py):
    return YMIN + (B - py) / (B - T) * (YMAX - YMIN)


key_x = to_lat(185.0)
for py, mk, col, sz, filled in [
    (380.7, "circle", "black", 11, True),
    (413.5, "x", "black", 18, False),
    (446.5, "inverted_triangle", "black", 16, False),
    (479.5, "cross", "black", 20, False),
    (577.7, "circle", PURPLE, 15, True),
    (610.7, "circle", ORANGE, 15, True),
]:
    p.scatter([key_x], [to_elev(py)], marker=mk, size=sz, level="overlay",
              fill_color=col if filled else None,
              line_color=None if filled else col, line_width=2.6)

for txt, px, py in [
    ("Permafrost evidence", 199, 338),
    ("Rock glacier", 210.7, 380.7),
    ("Test pit", 210.7, 413.5),
    ("Borehole", 210.7, 446.5),
    ("Ground surface temp.", 210.7, 479.5),
    ("Color", 210.7, 544.7),
    ("Permafrost", 210.7, 577.7),
    ("No permafrost", 210.7, 610.7),
]:
    p.add_layout(Label(x=sx(px), y=sy(py), x_units="screen", y_units="screen", text=txt,
                       text_font=FONT, text_font_size="26.5px", text_color="black",
                       text_baseline="middle", text_align="left", level="overlay"))

open("out.html", "w").write(file_html(p, INLINE))
